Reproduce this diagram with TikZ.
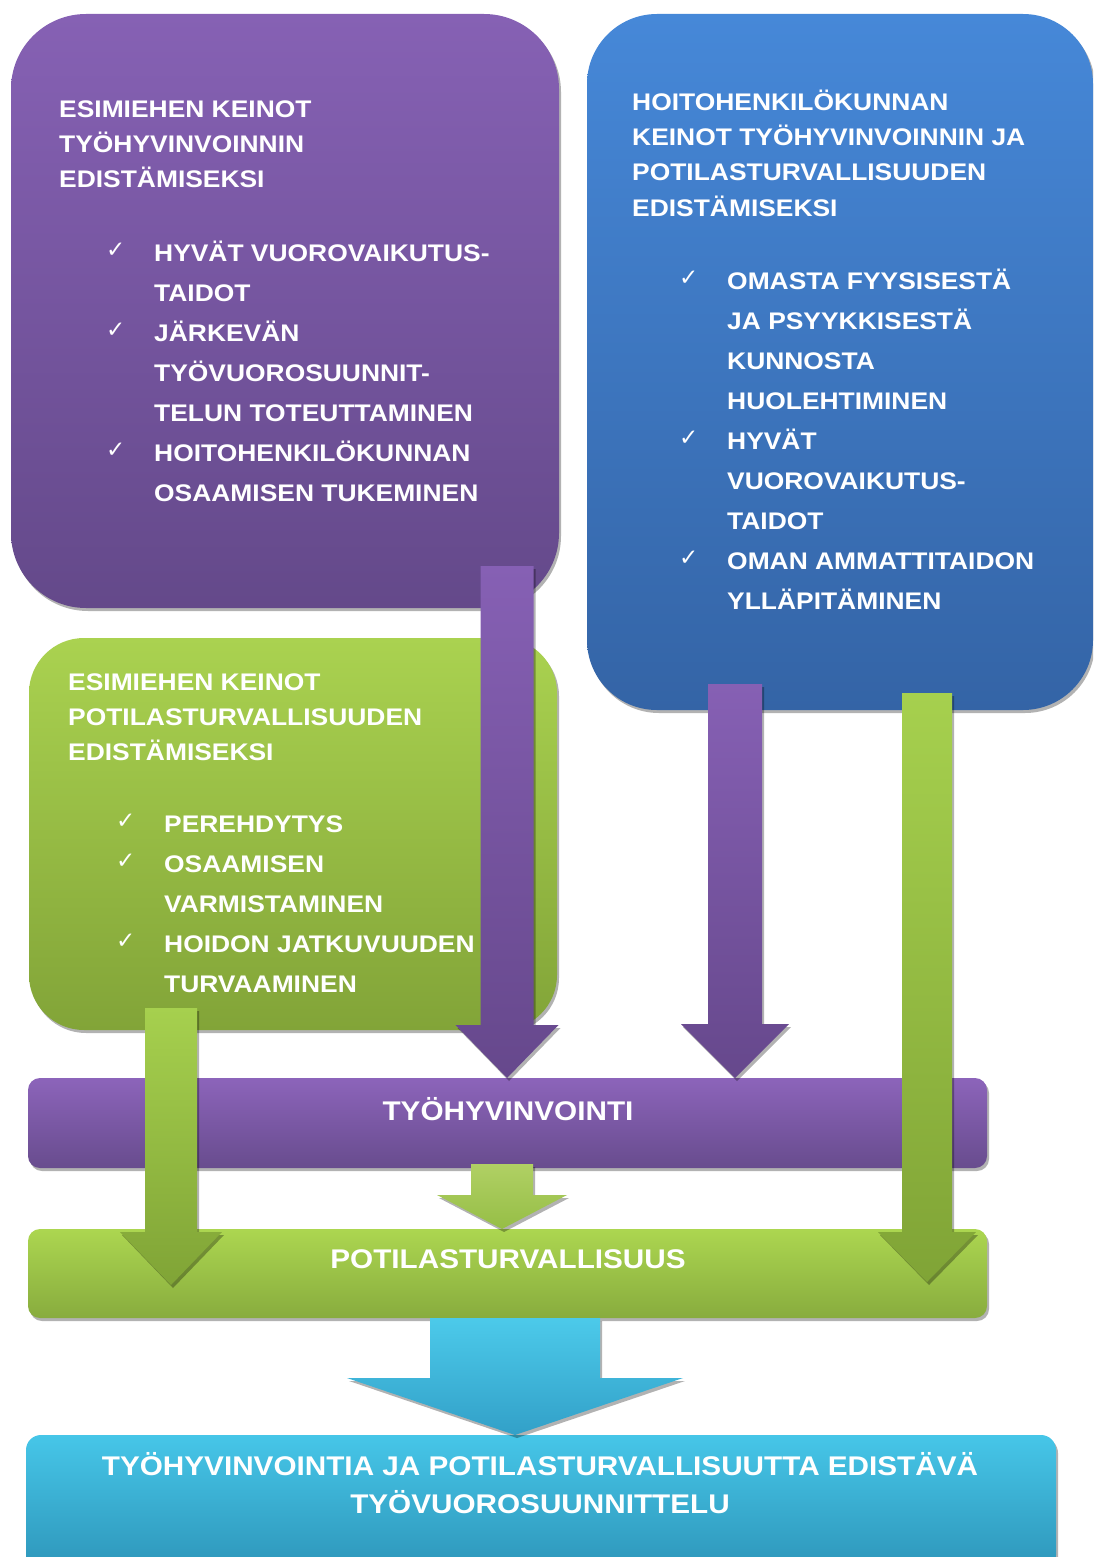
\documentclass[tikz,border=0pt]{standalone}
\usepackage{fontspec}
\newfontfamily\boxfont{Liberation Sans}[FakeStretch=1.1]
\newfontfamily\chkfont{DejaVu Sans}
\usetikzlibrary{calc,shadows,shadings}
\definecolor{pTop}{RGB}{134,97,180}
\definecolor{pBot}{RGB}{100,73,138}
\definecolor{bTop}{RGB}{70,136,216}
\definecolor{bBot}{RGB}{52,100,166}
\definecolor{gTop}{RGB}{170,210,80}
\definecolor{gBot}{RGB}{130,164,56}
\definecolor{barPTop}{RGB}{140,100,186}
\definecolor{barPBot}{RGB}{104,76,142}
\definecolor{barGTop}{RGB}{172,214,80}
\definecolor{barGBot}{RGB}{136,172,62}
\definecolor{cTop}{RGB}{70,198,232}
\definecolor{cBot}{RGB}{46,150,186}
\definecolor{apTop}{RGB}{134,96,180}
\definecolor{apBot}{RGB}{102,72,140}
\definecolor{agTop}{RGB}{166,208,78}
\definecolor{agBot}{RGB}{128,164,54}
\definecolor{asTop}{RGB}{176,208,100}
\definecolor{asBot}{RGB}{150,190,70}
\definecolor{acTop}{RGB}{76,202,234}
\definecolor{acBot}{RGB}{50,160,200}
\newcommand\blockarrow[6]{%
  \path[#1] ($(#2)+(-#4,0)$) -- ($(#3)+(-#4,-#6)$) -- ($(#3)+(-#5,-#6)$)
    -- (#3) -- ($(#3)+(#5,-#6)$) -- ($(#3)+(#4,-#6)$) -- ($(#2)+(#4,0)$) -- cycle;}
\tikzset{
  panel/.style={anchor=north west, inner sep=0pt, outer sep=0pt, draw=none},
  shad/.style={drop shadow={shadow xshift=2pt, shadow yshift=-3pt, opacity=0.3, fill=black}},
  txt/.style={anchor=base west, inner sep=0pt, text=white, font=\boxfont\bfseries\fontsize{24}{24}\selectfont},
  bartxt/.style={anchor=base, inner sep=0pt, text=white, font=\boxfont\bfseries\fontsize{27}{27}\selectfont},
  chk/.style={anchor=base west, inner sep=0pt, text=white, font=\chkfont\fontsize{23}{23}\selectfont},
  parrow/.style={top color=apTop, bottom color=apBot, shad},
  garrow/.style={top color=agTop, bottom color=agBot, shad},
  sarrow/.style={top color=asTop, bottom color=asBot, shad},
  carrow/.style={top color=acTop, bottom color=acBot, shad},
}
\begin{document}
\begin{tikzpicture}[x=1pt,y=-1pt]
\useasboundingbox (0,0) rectangle (1093,1557);
\clip (0,0) rectangle (1093,1557);

% panels
\node[panel, shad, minimum width=548pt, minimum height=594pt, rounded corners=75pt,
  top color=pTop, bottom color=pBot] (sup) at (11,14) {};
\node[panel, shad, minimum width=506pt, minimum height=696pt, rounded corners=70pt,
  top color=bTop, bottom color=bBot] (staff) at (587,14) {};
\node[panel, shad, minimum width=528pt, minimum height=392pt, rounded corners=55pt,
  top color=gTop, bottom color=gBot] (safe) at (29,638) {};
\node[panel, shad, minimum width=959pt, minimum height=90pt, rounded corners=12pt,
  top color=barPTop, bottom color=barPBot] (wb) at (28,1078) {};
\node[panel, shad, minimum width=959pt, minimum height=89pt, rounded corners=12pt,
  top color=barGTop, bottom color=barGBot] (pb) at (28,1229) {};
\node[panel, shad, minimum width=1030pt, minimum height=135pt, rounded corners=15pt,
  top color=cTop, bottom color=cBot] (fin) at (26,1435) {};

% texts: purple panel
\foreach \t [count=\i from 0] in {ESIMIEHEN KEINOT, TYÖHYVINVOINNIN, EDISTÄMISEKSI}
  \node[txt] (st\i) at (59,118+35*\i) {\t};
\foreach \c/\t [count=\i from 0] in {1/HYVÄT VUOROVAIKUTUS-, 0/TAIDOT, 1/JÄRKEVÄN,
  0/TYÖVUOROSUUNNIT-, 0/TELUN TOTEUTTAMINEN, 1/HOITOHENKILÖKUNNAN, 0/OSAAMISEN TUKEMINEN}{
  \node[txt] (sl\i) at (154,261+40*\i) {\t};
  \ifnum\c=1 \node[chk] (sc\i) at (106,257+40*\i) {✓}; \fi
}

% texts: blue panel
\foreach \t [count=\i from 0] in {HOITOHENKILÖKUNNAN, KEINOT TYÖHYVINVOINNIN JA,
  POTILASTURVALLISUUDEN, EDISTÄMISEKSI}
  \node[txt] (ht\i) at (632,111+35*\i) {\t};
\foreach \c/\t [count=\i from 0] in {1/OMASTA FYYSISESTÄ, 0/JA PSYYKKISESTÄ, 0/KUNNOSTA,
  0/HUOLEHTIMINEN, 1/HYVÄT, 0/VUOROVAIKUTUS-, 0/TAIDOT, 1/OMAN AMMATTITAIDON, 0/YLLÄPITÄMINEN}{
  \node[txt] (hl\i) at (727,289+40*\i) {\t};
  \ifnum\c=1 \node[chk] (hc\i) at (679,285+40*\i) {✓}; \fi
}

% texts: green panel
\foreach \t [count=\i from 0] in {ESIMIEHEN KEINOT, POTILASTURVALLISUUDEN, EDISTÄMISEKSI}
  \node[txt] (gt\i) at (68,690+35*\i) {\t};
\foreach \c/\t [count=\i from 0] in {1/PEREHDYTYS, 1/OSAAMISEN, 0/VARMISTAMINEN,
  1/HOIDON JATKUVUUDEN, 0/TURVAAMINEN}{
  \node[txt] (gl\i) at (164,832+40*\i) {\t};
  \ifnum\c=1 \node[chk] (gc\i) at (116,828+40*\i) {✓}; \fi
}

% arrow coordinates
\coordinate (a1s) at (507,566);  \coordinate (a1e) at (a1s |- wb.north);
\coordinate (a2s) at (735,684);  \coordinate (a2e) at (a2s |- wb.north);
\coordinate (g1s) at (171,1008); \coordinate (g1e) at (171,1285);
\coordinate (g2s) at (927,693);  \coordinate (g2e) at (927,1282);
\coordinate (g3s) at (502,1164); \coordinate (g3e) at (g3s |- pb.north);
\coordinate (c1s) at (515,1318); \coordinate (c1e) at (c1s |- fin.north);

% arrows
\blockarrow{parrow}{a1s}{a1e}{26.5}{51.5}{53}
\blockarrow{parrow}{a2s}{a2e}{27}{54}{54}
\blockarrow{garrow}{g1s}{g1e}{26}{51}{53}
\blockarrow{garrow}{g2s}{g2e}{25}{49}{50}
\blockarrow{sarrow}{g3s}{g3e}{31}{65}{34}
\blockarrow{carrow}{c1s}{c1e}{85}{168}{57}

% bar labels
\node[bartxt] (wbl) at (508,1120) {TYÖHYVINVOINTI};
\node[bartxt] (pbl) at (508,1268) {POTILASTURVALLISUUS};
\node[bartxt] (fl1) at (540,1475) {TYÖHYVINVOINTIA JA POTILASTURVALLISUUTTA EDISTÄVÄ};
\node[bartxt] (fl2) at (540,1513) {TYÖVUOROSUUNNITTELU};
\end{tikzpicture}
\end{document}
